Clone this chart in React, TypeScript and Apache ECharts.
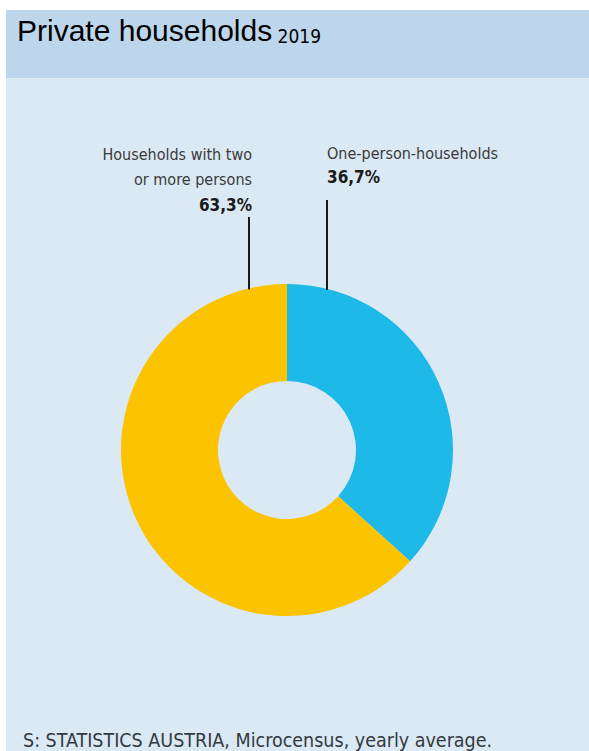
import React, { useEffect, useRef } from "react";
import * as echarts from "echarts";

const titleText = "Private households";
const titleYear = "2019";
const sourceText = "S: STATISTICS AUSTRIA, Microcensus, yearly average.";
const categories = ["One-person-households", "Households with two\nor more persons"];
const shares = [36.7, 63.3];
const sliceColors = ["#1db9e8", "#fcc300"];

const CX = 287;
const CY = 450;
const R_IN = 69;
const R_OUT = 166;
const LABEL_FONT = "'DejaVu Sans Condensed', 'Liberation Sans', sans-serif";

const fmt = (v: number) => v.toFixed(1).replace(".", ",") + "%";

function richFor(align: string, lh: number) {
  return {
    n: { fontFamily: LABEL_FONT, fontSize: 16, color: "#3a3a3a", lineHeight: lh, align },
    v: { fontFamily: LABEL_FONT, fontSize: 17, fontWeight: "bold", color: "#1a1a1a", lineHeight: lh, align },
  };
}

// label anchors (annotation layout)
const labelAnchors = [
  { x: 327, y: 141, align: "left", lineTop: 200, lh: 24 },
  { x: 252, y: 142, align: "right", lineTop: 217, lh: 25 },
];
const lineXs = [327, 249];

export default function App() {
  const ref = useRef<HTMLDivElement>(null);
  useEffect(() => {
    document.body.style.margin = "0";
    const chart = echarts.init(ref.current!, null, { renderer: "svg" });
    const data = categories.map((name, i) => ({
      name,
      value: shares[i],
      itemStyle: { color: sliceColors[i] },
      label: { align: labelAnchors[i].align, rich: richFor(labelAnchors[i].align, labelAnchors[i].lh) },
    }));
    const leaderLines = lineXs.map((x, i) => {
      const dx = x - CX;
      const yEnd = CY - Math.sqrt(R_OUT * R_OUT - dx * dx) + 1;
      return {
        type: "line",
        shape: { x1: x, y1: labelAnchors[i].lineTop, x2: x, y2: yEnd },
        style: { stroke: "#1a1a1a", lineWidth: 2 },
        z: 10,
      };
    });
    chart.setOption({
      animation: false,
      backgroundColor: "#ffffff",
      graphic: [
        { type: "rect", shape: { x: 6, y: 10, width: 583, height: 741 }, style: { fill: "#dbe9f5" }, z: -10 },
        { type: "rect", shape: { x: 6, y: 10, width: 583, height: 68 }, style: { fill: "#bdd6ec" }, z: -9 },
        {
          type: "text",
          x: 17,
          y: 11,
          style: {
            text: `{a|${titleText}}{b| ${titleYear}}`,
            verticalAlign: "top",
            rich: {
              a: { fontFamily: "'Liberation Sans', Arial, sans-serif", fontSize: 30, color: "#1b2838", lineHeight: 34, verticalAlign: "bottom" },
              b: { fontFamily: LABEL_FONT, fontSize: 19, color: "#1b2838", lineHeight: 24, verticalAlign: "bottom" },
            },
          },
        },
        {
          type: "text",
          x: 23,
          y: 740,
          style: { text: sourceText, fontFamily: LABEL_FONT, fontSize: 19.5, fill: "#333a40", verticalAlign: "middle" },
        },
        ...leaderLines,
      ],
      series: [
        {
          type: "pie",
          center: [CX, CY],
          radius: [R_IN, R_OUT],
          startAngle: 90,
          clockwise: true,
          silent: true,
          emphasis: { disabled: true },
          itemStyle: { borderWidth: 0 },
          label: {
            show: true,
            position: "outside",
            overflow: "none",
            formatter: (p: any) =>
              p.name.split("\n").map((s: string) => `{n|${s}}`).join("\n") + `\n{v|${fmt(p.value)}}`,
          },
          labelLine: { show: false },
          labelLayout: (params: any) => {
            const a = labelAnchors[params.dataIndex];
            return { x: a.x, y: a.y, align: a.align, verticalAlign: "top" };
          },
          data,
        },
      ],
    });
    return () => chart.dispose();
  }, []);
  return <div ref={ref} style={{ width: 589, height: 751 }} />;
}
